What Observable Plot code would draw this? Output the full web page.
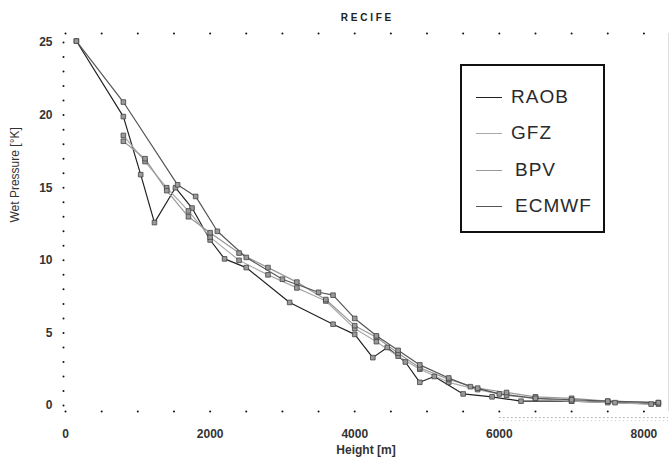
<!DOCTYPE html>
<html>
<head>
<meta charset="utf-8">
<script src="https://cdn.jsdelivr.net/npm/d3@7"></script>
<script src="https://cdn.jsdelivr.net/npm/@observablehq/plot@0.6"></script>
<style>
  html, body { margin: 0; padding: 0; background: #fff; }
  #wrap { position: relative; width: 672px; height: 462px; font-family: "Liberation Sans", Arial, sans-serif; }
  #legend { position: absolute; left: 460px; top: 64px; width: 141px; height: 165px; border: 2px solid #111; box-sizing: content-box; }
  .item { position: absolute; left: 14px; display: flex; align-items: center; font-size: 19px; color: #2a2a2a; letter-spacing: 1px; }
  .item span.ln { display: inline-block; width: 26px; height: 0; border-top: 1px solid #666; margin-right: 9px; }
</style>
</head>
<body>
<div id="wrap">
  <div id="chart"></div>
  <div id="legend"></div>
</div>
<script>
const title = "RECIFE";
const xLabel = "Height [m]";
const yLabel = "Wet Pressure [°K]";
const seriesNames = ["RAOB", "GFZ", "BPV", "ECMWF"];
const seriesColors = ["#222", "#aaa", "#999", "#555"];
const xTicks = [0, 2000, 4000, 6000, 8000];
const yTicks = [0, 5, 10, 15, 20, 25];

const raobH = [150, 800, 1040, 1230, 1520, 1750, 2000, 2200, 2500, 3100, 3700, 4000, 4250, 4450, 4700, 4900, 5100, 5500, 5900, 6300, 7000, 7600, 8200];
const raobV = [25.1, 19.9, 15.9, 12.6, 15.0, 13.6, 11.4, 10.1, 9.5, 7.1, 5.6, 4.9, 3.3, 4.0, 3.0, 1.6, 2.0, 0.8, 0.6, 0.3, 0.3, 0.2, 0.1];

const gfzH = [800, 1100, 1400, 1700, 2000, 2400, 2800, 3200, 3600, 4000, 4300, 4600, 4900, 5300, 5700, 6100, 6500, 7000, 7500, 8100];
const gfzV = [18.6, 16.8, 15.0, 13.4, 11.6, 10.0, 9.0, 8.1, 7.2, 5.3, 4.4, 3.4, 2.5, 1.6, 1.1, 0.7, 0.5, 0.3, 0.2, 0.1];

const bpvH = [800, 1100, 1400, 1700, 2000, 2400, 2800, 3200, 3600, 4000, 4300, 4600, 4900, 5300, 5700, 6100, 6500, 7000, 7500, 8200];
const bpvV = [18.2, 17.0, 14.8, 13.0, 11.9, 10.5, 9.5, 8.5, 7.3, 5.5, 4.7, 3.6, 2.6, 1.8, 1.2, 0.9, 0.6, 0.5, 0.3, 0.2];

const ecmwfH = [150, 800, 1550, 1800, 2100, 2500, 3000, 3500, 3700, 4000, 4300, 4600, 4900, 5300, 5600, 6000, 6500, 7000, 7500, 8200];
const ecmwfV = [25.1, 20.9, 15.2, 14.4, 12.0, 10.2, 8.7, 7.8, 7.6, 6.0, 4.8, 3.8, 2.8, 1.9, 1.3, 0.8, 0.5, 0.4, 0.3, 0.2];

const hs = [raobH, gfzH, bpvH, ecmwfH];
const vs = [raobV, gfzV, bpvV, ecmwfV];
const data = [];
seriesNames.forEach((s, i) => hs[i].forEach((h, j) => data.push({series: s, h, v: vs[i][j]})));

const xDom = [-28, 8340];
const yDom = [-0.41, 25.62];
const xMinor = d3.range(0, 8340, 500);
const yMinor = d3.range(0, 26, 1);

const chart = Plot.plot({
  width: 672, height: 462,
  marginLeft: 63, marginRight: 4, marginTop: 33, marginBottom: 51,
  style: {fontFamily: "Liberation Sans, Arial, sans-serif", background: "#fff"},
  x: {domain: xDom, label: null},
  y: {domain: yDom, label: null},
  color: {domain: seriesNames, range: seriesColors},
  marks: [
    Plot.dot(xMinor, {x: d => d, y: yDom[1], r: 1, fill: "#111", stroke: null}),
    Plot.dot(xMinor, {x: d => d, y: yDom[0], r: 1, fill: "#111", stroke: null}),
    Plot.dot(yMinor, {x: xDom[0], y: d => d, r: 1, fill: "#111", stroke: null}),
    Plot.ruleX([xDom[1]], {stroke: "#ddd", strokeWidth: 1}),
    Plot.ruleY([yDom[0]], {x1: 6000, x2: xDom[1], dy: 6, stroke: "#bbb", strokeDasharray: "2,2"}),
    Plot.ruleY([yDom[0]], {x1: 6000, x2: xDom[1], dy: 9, stroke: "#ccc", strokeDasharray: "1,3"}),
    Plot.line(data, {x: "h", y: "v", z: "series", stroke: "series", strokeWidth: 1.2}),
    Plot.dot(data, {x: "h", y: "v", symbol: "square", r: 2.6, fill: "#9a9a9a", stroke: "#444", strokeWidth: 0.8}),
    Plot.axisX({ticks: xTicks, tickSize: 0, tickPadding: 18, tickFormat: d => String(d), fontSize: 12, fontWeight: "bold", fill: "#333", label: null}),
    Plot.axisY({ticks: yTicks, tickSize: 0, tickPadding: 11, tickFormat: d => String(d), fontSize: 12, fontWeight: "bold", fill: "#333", label: null}),
    Plot.text([title], {frameAnchor: "top", dy: -20, fontSize: 10, fontWeight: "bold", fill: "#222", text: d => d.split("").join(" ")}),
    Plot.text([xLabel], {frameAnchor: "bottom", dy: 42, fontSize: 12, fill: "#333", fontWeight: "bold"}),
    Plot.text([yLabel], {frameAnchor: "left", dx: -48, rotate: -90, fontSize: 12, fill: "#333"})
  ]
});
document.getElementById("chart").appendChild(chart);

const legend = document.getElementById("legend");
const tops = [20, 56, 93, 129];
const offs = [0, 0, 4, 4];
seriesNames.forEach((s, i) => {
  const el = document.createElement("div");
  el.className = "item";
  el.style.top = tops[i] + "px";
  el.innerHTML = `<span class="ln" style="border-top-color:${seriesColors[i]};margin-right:${9 + offs[i]}px"></span>${s}`;
  legend.appendChild(el);
});
</script>
</body>
</html>
